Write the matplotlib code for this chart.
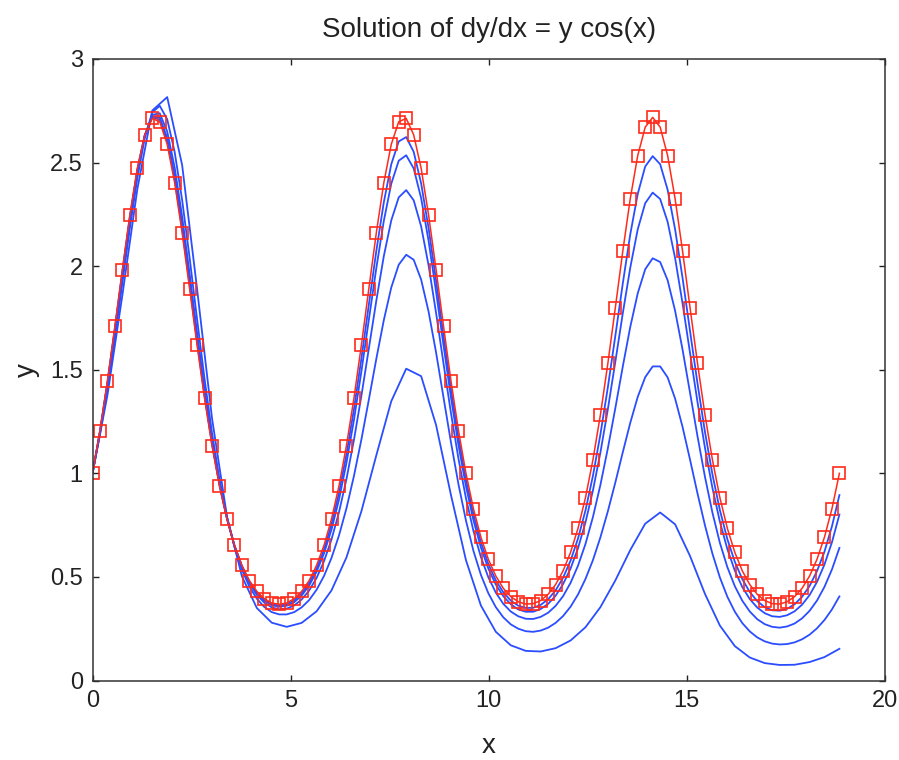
import numpy as np
import matplotlib
matplotlib.use("Agg")
import matplotlib.pyplot as plt

plt.rcParams['font.family'] = ['Liberation Sans', 'DejaVu Sans']

x_end = 18.85

# exact solution (red squares), 101 samples
y_exact = [1.000, 1.206, 1.445, 1.709, 1.983, 2.246, 2.472, 2.634, 2.713, 2.697, 2.588, 2.402, 2.161, 1.892, 1.619, 1.362, 1.134,
           0.939, 0.780, 0.653, 0.556, 0.482, 0.430, 0.395, 0.374, 0.368, 0.374, 0.395, 0.430, 0.482, 0.556, 0.653, 0.780, 0.939,
           1.134, 1.362, 1.619, 1.892, 2.161, 2.402, 2.588, 2.697, 2.713, 2.634, 2.472, 2.246, 1.983, 1.709, 1.445, 1.206, 1.000,
           0.829, 0.692, 0.585, 0.504, 0.445, 0.405, 0.380, 0.369, 0.371, 0.386, 0.416, 0.463, 0.529, 0.618, 0.734, 0.882, 1.065,
           1.282, 1.531, 1.800, 2.073, 2.326, 2.534, 2.671, 2.718, 2.671, 2.534, 2.326, 2.073, 1.800, 1.531, 1.282, 1.065, 0.882,
           0.734, 0.618, 0.529, 0.463, 0.416, 0.386, 0.371, 0.369, 0.380, 0.405, 0.445, 0.504, 0.585, 0.692, 0.829, 1.000]

# approximations (blue lines); the coarsest one has 51 samples, the rest 101
y_h50 = [1.000, 1.377, 1.860, 2.371, 2.751, 2.816, 2.488, 1.890, 1.266, 0.792, 0.503, 0.350, 0.279, 0.259, 0.278, 0.334, 0.435,
         0.594, 0.817, 1.087, 1.348, 1.505, 1.469, 1.233, 0.894, 0.581, 0.362, 0.235, 0.170, 0.143, 0.140, 0.156, 0.193, 0.257,
         0.354, 0.483, 0.630, 0.757, 0.811, 0.754, 0.601, 0.418, 0.265, 0.166, 0.111, 0.084, 0.075, 0.076, 0.089, 0.113, 0.153]

y_h100 = [1.000, 1.188, 1.409, 1.655, 1.919, 2.183, 2.424, 2.619, 2.742, 2.774, 2.709, 2.551, 2.319, 2.041, 1.744, 1.456, 1.195,
          0.972, 0.789, 0.645, 0.535, 0.453, 0.395, 0.355, 0.330, 0.319, 0.319, 0.330, 0.353, 0.388, 0.438, 0.505, 0.592, 0.700,
          0.831, 0.987, 1.163, 1.356, 1.553, 1.739, 1.897, 2.007, 2.055, 2.031, 1.935, 1.780, 1.583, 1.365, 1.148, 0.947, 0.772,
          0.626, 0.510, 0.421, 0.354, 0.305, 0.271, 0.250, 0.238, 0.235, 0.241, 0.255, 0.278, 0.311, 0.356, 0.415, 0.490, 0.581,
          0.691, 0.817, 0.956, 1.102, 1.244, 1.369, 1.464, 1.516, 1.516, 1.463, 1.361, 1.224, 1.066, 0.903, 0.749, 0.612, 0.497,
          0.404, 0.332, 0.277, 0.237, 0.208, 0.189, 0.178, 0.174, 0.176, 0.184, 0.199, 0.221, 0.252, 0.292, 0.343, 0.406]

y_h200 = [1.000, 1.197, 1.426, 1.681, 1.950, 2.214, 2.449, 2.629, 2.730, 2.738, 2.650, 2.476, 2.239, 1.964, 1.679, 1.407, 1.163,
          0.955, 0.785, 0.650, 0.546, 0.469, 0.413, 0.376, 0.353, 0.344, 0.347, 0.362, 0.391, 0.434, 0.495, 0.576, 0.681, 0.812,
          0.972, 1.161, 1.374, 1.603, 1.834, 2.048, 2.221, 2.332, 2.367, 2.318, 2.192, 2.003, 1.774, 1.529, 1.289, 1.070, 0.880,
          0.722, 0.596, 0.498, 0.424, 0.370, 0.333, 0.310, 0.298, 0.297, 0.307, 0.327, 0.360, 0.407, 0.471, 0.554, 0.659, 0.789,
          0.944, 1.121, 1.315, 1.516, 1.707, 1.869, 1.985, 2.038, 2.020, 1.932, 1.785, 1.597, 1.389, 1.179, 0.983, 0.810, 0.664,
          0.547, 0.455, 0.385, 0.333, 0.296, 0.272, 0.259, 0.255, 0.261, 0.275, 0.300, 0.336, 0.386, 0.452, 0.536, 0.640]

y_h400 = [1.000, 1.201, 1.435, 1.695, 1.966, 2.230, 2.460, 2.632, 2.722, 2.718, 2.619, 2.439, 2.199, 1.927, 1.649, 1.384, 1.148,
          0.947, 0.782, 0.652, 0.551, 0.476, 0.422, 0.385, 0.364, 0.356, 0.361, 0.378, 0.410, 0.458, 0.525, 0.614, 0.729, 0.873,
          1.050, 1.257, 1.492, 1.742, 1.991, 2.218, 2.398, 2.509, 2.535, 2.472, 2.328, 2.121, 1.876, 1.617, 1.365, 1.136, 0.938,
          0.774, 0.642, 0.540, 0.463, 0.407, 0.368, 0.343, 0.332, 0.332, 0.345, 0.370, 0.409, 0.465, 0.540, 0.638, 0.763, 0.917,
          1.100, 1.310, 1.539, 1.773, 1.993, 2.178, 2.304, 2.355, 2.324, 2.214, 2.039, 1.820, 1.581, 1.344, 1.123, 0.929, 0.766,
          0.634, 0.530, 0.451, 0.393, 0.352, 0.325, 0.310, 0.307, 0.315, 0.334, 0.366, 0.412, 0.476, 0.560, 0.667, 0.801]

y_h800 = [1.000, 1.204, 1.440, 1.702, 1.975, 2.238, 2.466, 2.633, 2.718, 2.708, 2.604, 2.421, 2.180, 1.909, 1.634, 1.373, 1.141,
          0.943, 0.781, 0.653, 0.553, 0.479, 0.426, 0.390, 0.369, 0.362, 0.368, 0.387, 0.420, 0.470, 0.540, 0.633, 0.754, 0.906,
          1.091, 1.309, 1.554, 1.815, 2.074, 2.308, 2.492, 2.602, 2.623, 2.552, 2.399, 2.183, 1.929, 1.662, 1.404, 1.170, 0.969,
          0.801, 0.667, 0.562, 0.483, 0.426, 0.386, 0.361, 0.350, 0.351, 0.365, 0.392, 0.435, 0.496, 0.578, 0.685, 0.821, 0.988,
          1.188, 1.416, 1.664, 1.917, 2.154, 2.349, 2.481, 2.531, 2.492, 2.369, 2.178, 1.943, 1.687, 1.434, 1.200, 0.995, 0.822,
          0.682, 0.573, 0.489, 0.427, 0.383, 0.354, 0.339, 0.337, 0.346, 0.368, 0.404, 0.456, 0.528, 0.622, 0.744, 0.895]

xticks = [0, 5, 10, 15, 20]
yticks = [0, 0.5, 1, 1.5, 2, 2.5, 3]

fig = plt.figure(figsize=(8.99, 7.6), dpi=100)
ax = fig.add_axes([0.1029, 0.1046, 0.8815, 0.8178])

blue = '#2a4dff'
for ys in [y_h50, y_h100, y_h200, y_h400, y_h800]:
    xs = np.linspace(0, x_end, len(ys))
    ax.plot(xs, ys, color=blue, linewidth=1.3)

xe = np.linspace(0, x_end, len(y_exact))
ax.plot(xe, y_exact, color='#ff2a1a', linewidth=1.1, marker='s', markersize=8.8,
        markerfacecolor='none', markeredgecolor='#ff2a1a', markeredgewidth=1.2)

ax.set_xlim(0, 20)
ax.set_ylim(0, 3)
ax.set_xticks(xticks)
ax.set_yticks(yticks)
ax.set_xticklabels([str(t) for t in xticks])
ax.set_yticklabels(['0', '0.5', '1', '1.5', '2', '2.5', '3'])
ax.tick_params(direction='in', top=True, right=True, length=4.5, width=1,
               labelsize=17, pad=7, colors='#222222')
for s in ax.spines.values():
    s.set_linewidth(1.1)
    s.set_color('#333333')

ax.set_title('Solution of dy/dx = y cos(x)', fontsize=20, pad=16, color='#222222')
ax.set_xlabel('x', fontsize=20, labelpad=15, color='#222222')
ax.set_ylabel('y', fontsize=20, labelpad=7, color='#222222')

fig.savefig('out.png', dpi=100)
